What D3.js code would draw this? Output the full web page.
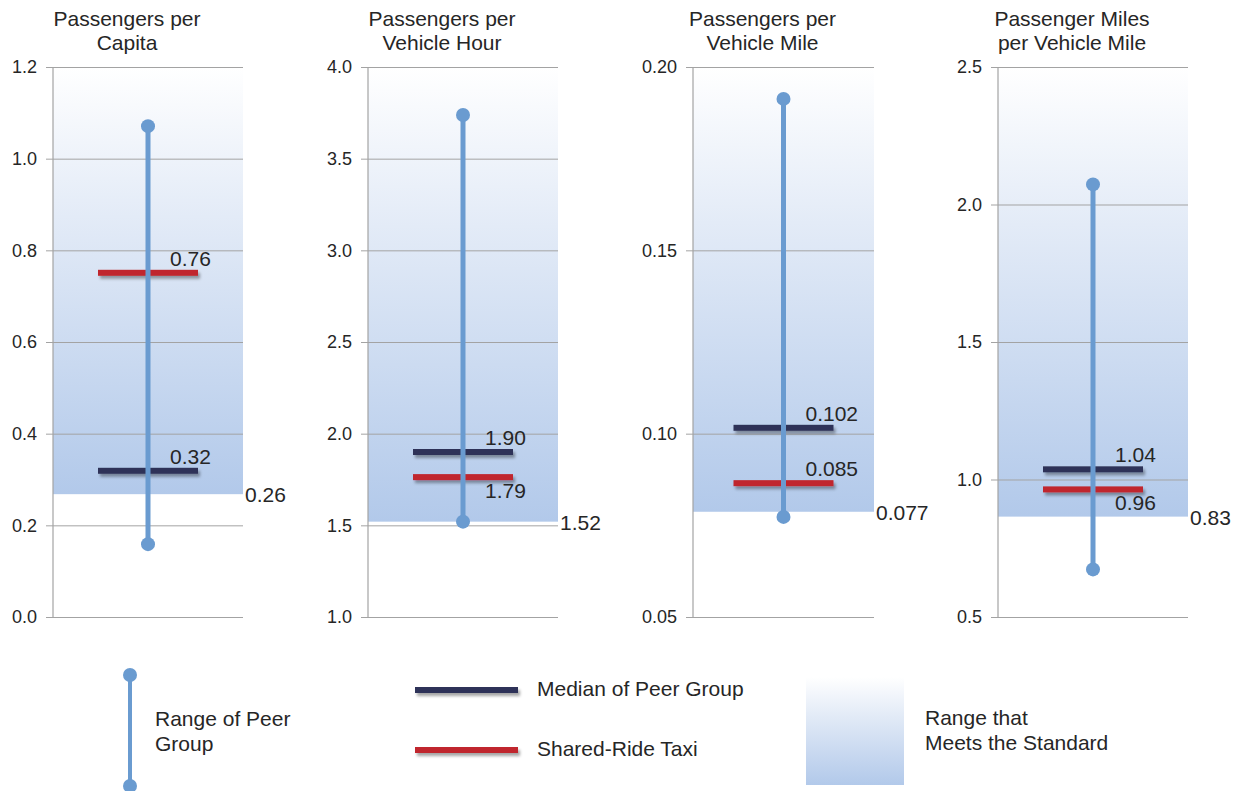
<!DOCTYPE html>
<html>
<head>
<meta charset="utf-8">
<script src="https://cdn.jsdelivr.net/npm/d3@7"></script>
<style>
  body { margin: 0; background: #fff; }
  text { font-family: "Liberation Sans", Arial, sans-serif; fill: #262626; }
</style>
</head>
<body>
<div id="wrapper"></div>
<script>
// chart values
const titles = [
    ["Passengers per", "Capita"],
    ["Passengers per", "Vehicle Hour"],
    ["Passengers per", "Vehicle Mile"],
    ["Passenger Miles", "per Vehicle Mile"]
];
const yDomains = [[0, 1.2], [1.0, 4.0], [0.05, 0.20], [0.5, 2.5]];
const yTickSteps = [0.2, 0.5, 0.05, 0.5];
const yTickFormats = [".1f", ".1f", ".2f", ".1f"];

const peerLow = [0.159, 1.52, 0.0773, 0.673];
const peerHigh = [1.071, 3.738, 0.1913, 2.073];
const peerMedian = [0.319, 1.90, 0.1016, 1.037];
const taxiValue = [0.751, 1.763, 0.0865, 0.964];
const standardMin = [0.268, 1.52, 0.0787, 0.865];

const medianLabels = ["0.32", "1.90", "0.102", "1.04"];
const taxiLabels = ["0.76", "1.79", "0.085", "0.96"];
const standardLabels = ["0.26", "1.52", "0.077", "0.83"];

const legendLabels = {
    range: ["Range of Peer", "Group"],
    median: "Median of Peer Group",
    taxi: "Shared-Ride Taxi",
    standard: ["Range that", "Meets the Standard"]
};

function drawChart(){
    const rangeColor = "#6a9bd0";
    const medianColor = "#2f3358";
    const taxiColor = "#c0272d";
    const gridColor = "#a3a3a3";

    const dimensions = {
        width: 1243,
        height: 791,
        plotTop: 67,
        plotBottom: 617,
        panelLeft: [53, 368, 693, 998],
        panelWidth: [190, 190, 181, 190],
        barHalf: 50,
        barThick: 6
    };

    const wrapper = d3.select("#wrapper")
        .append("svg")
        .attr("width", dimensions.width)
        .attr("height", dimensions.height);

    const defs = wrapper.append("defs");
    const grad = defs.append("linearGradient")
        .attr("id", "standardFill")
        .attr("x1", 0).attr("y1", 0)
        .attr("x2", 0).attr("y2", 1);
    grad.append("stop").attr("offset", "0%").attr("stop-color", "#ffffff");
    grad.append("stop").attr("offset", "35%").attr("stop-color", "#e3ebf7");
    grad.append("stop").attr("offset", "100%").attr("stop-color", "#b2c9ea");

    const shadow = defs.append("filter")
        .attr("id", "barShadow")
        .attr("x", "-10%").attr("y", "-100%")
        .attr("width", "130%").attr("height", "400%");
    shadow.append("feDropShadow")
        .attr("dx", 2).attr("dy", 3)
        .attr("stdDeviation", 1.6)
        .attr("flood-color", "#000")
        .attr("flood-opacity", 0.35);

    titles.forEach((titleLines, i) => {
        const x0 = dimensions.panelLeft[i];
        const w = dimensions.panelWidth[i];

        const xScale = d3.scaleLinear()
            .domain([0, 1])
            .range([x0, x0 + w]);

        const yScale = d3.scaleLinear()
            .domain(yDomains[i])
            .range([dimensions.plotBottom, dimensions.plotTop]);

        const panel = wrapper.append("g");

        // shaded "meets the standard" band
        panel.append("rect")
            .attr("x", xScale(0))
            .attr("y", yScale(yDomains[i][1]))
            .attr("width", xScale(1) - xScale(0))
            .attr("height", yScale(standardMin[i]) - yScale(yDomains[i][1]))
            .attr("fill", "url(#standardFill)");

        // y axis with gridlines
        const ticks = d3.range(yDomains[i][0], yDomains[i][1] + yTickSteps[i] / 2, yTickSteps[i]);
        const axis = d3.axisLeft(yScale)
            .tickValues(ticks)
            .tickFormat(d3.format(yTickFormats[i]))
            .tickSize(-(w + 7))
            .tickPadding(9);

        const axisG = panel.append("g")
            .attr("transform", `translate(${xScale(1)},0)`)
            .call(axis);
        axisG.select(".domain").remove();
        axisG.selectAll(".tick line")
            .attr("x2", 0)
            .attr("x1", -(w + 7))
            .attr("stroke", gridColor)
            .attr("stroke-width", 1);
        axisG.selectAll(".tick text")
            .attr("x", -(w + 16))
            .style("font-size", "18px")
            .style("font-family", "'Liberation Sans', Arial, sans-serif")
            .attr("fill", "#262626");

        panel.append("line")
            .attr("x1", xScale(0)).attr("x2", xScale(0))
            .attr("y1", yScale(yDomains[i][1]))
            .attr("y2", yScale(yDomains[i][0]))
            .attr("stroke", gridColor)
            .attr("stroke-width", 1.2);

        // title
        const titleText = panel.append("text")
            .attr("text-anchor", "middle")
            .style("font-size", "21px");
        titleText.selectAll("tspan")
            .data(titleLines)
            .enter()
            .append("tspan")
            .attr("x", xScale(0.5) - 21)
            .attr("y", (d, j) => 26 + j * 24)
            .text(d => d);

        // median and taxi bars
        const bars = [
            {value: peerMedian[i], label: medianLabels[i], color: medianColor},
            {value: taxiValue[i], label: taxiLabels[i], color: taxiColor}
        ];
        const gap = Math.abs(yScale(bars[0].value) - yScale(bars[1].value));
        const lowest = d3.minIndex(bars, d => d.value);

        panel.selectAll(".bar")
            .data(bars)
            .enter()
            .append("rect")
            .attr("class", "bar")
            .attr("x", xScale(0.5) - dimensions.barHalf)
            .attr("width", dimensions.barHalf * 2)
            .attr("y", d => yScale(d.value) - dimensions.barThick / 2)
            .attr("height", dimensions.barThick)
            .attr("fill", d => d.color)
            .attr("filter", "url(#barShadow)");

        panel.selectAll(".barLabel")
            .data(bars)
            .enter()
            .append("text")
            .attr("class", "barLabel")
            .attr("x", xScale(0.5) + dimensions.barHalf - 28)
            .attr("y", (d, j) => (gap < 40 && j === lowest)
                ? yScale(d.value) + 21
                : yScale(d.value) - 7)
            .style("font-size", "21px")
            .text(d => d.label);

        // peer group range
        panel.append("line")
            .attr("x1", xScale(0.5)).attr("x2", xScale(0.5))
            .attr("y1", yScale(peerLow[i]))
            .attr("y2", yScale(peerHigh[i]))
            .attr("stroke", rangeColor)
            .attr("stroke-width", 5);

        panel.selectAll(".end")
            .data([peerLow[i], peerHigh[i]])
            .enter()
            .append("circle")
            .attr("cx", xScale(0.5))
            .attr("cy", d => yScale(d))
            .attr("r", 7)
            .attr("fill", rangeColor);

        // standard threshold label
        panel.append("text")
            .attr("x", xScale(1) + 2)
            .attr("y", yScale(standardMin[i]) + 8)
            .style("font-size", "21px")
            .text(standardLabels[i]);
    });

    // legend
    const legend = wrapper.append("g");

    legend.append("line")
        .attr("x1", 130).attr("x2", 130)
        .attr("y1", 675).attr("y2", 786)
        .attr("stroke", rangeColor)
        .attr("stroke-width", 4);
    legend.selectAll(".legendEnd")
        .data([675, 786])
        .enter()
        .append("circle")
        .attr("cx", 130)
        .attr("cy", d => d)
        .attr("r", 7)
        .attr("fill", rangeColor);
    legend.selectAll(".rangeText")
        .data(legendLabels.range)
        .enter()
        .append("text")
        .attr("x", 155)
        .attr("y", (d, j) => 726 + j * 25)
        .style("font-size", "21px")
        .text(d => d);

    [
        {y: 690, color: medianColor, text: legendLabels.median},
        {y: 750, color: taxiColor, text: legendLabels.taxi}
    ].forEach(item => {
        legend.append("rect")
            .attr("x", 415).attr("width", 103)
            .attr("y", item.y - dimensions.barThick / 2)
            .attr("height", dimensions.barThick)
            .attr("fill", item.color)
            .attr("filter", "url(#barShadow)");
        legend.append("text")
            .attr("x", 537)
            .attr("y", item.y + 6)
            .style("font-size", "21px")
            .text(item.text);
    });

    legend.append("rect")
        .attr("x", 806).attr("y", 677)
        .attr("width", 98).attr("height", 108)
        .attr("fill", "url(#standardFill)");
    legend.selectAll(".standardText")
        .data(legendLabels.standard)
        .enter()
        .append("text")
        .attr("x", 925)
        .attr("y", (d, j) => 725 + j * 25)
        .style("font-size", "21px")
        .text(d => d);
}

drawChart();
</script>
</body>
</html>
